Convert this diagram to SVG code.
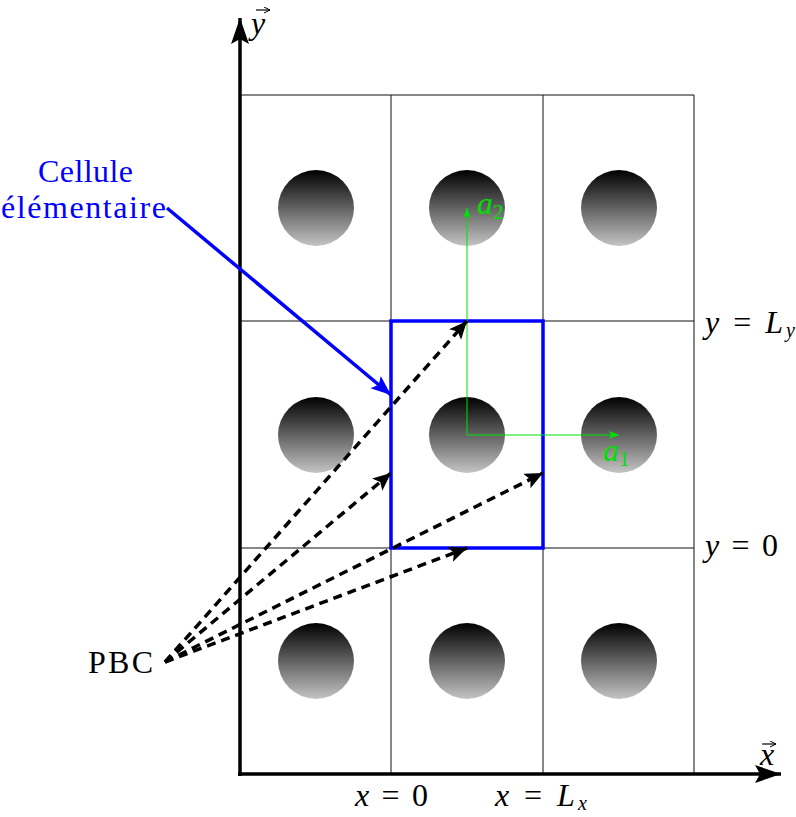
<svg xmlns="http://www.w3.org/2000/svg" width="796" height="817" viewBox="0 0 796 817">
<defs>
<linearGradient id="ball" x1="0" y1="0" x2="0" y2="1">
<stop offset="0" stop-color="#000"/>
<stop offset="1" stop-color="#c4c4c4"/>
</linearGradient>
<marker id="axh" markerUnits="userSpaceOnUse" markerWidth="30" markerHeight="20" refX="26" refY="9" orient="auto">
<path d="M0,0 L26,9 L0,18 L5,9 Z" fill="#000"/>
</marker>
<marker id="dh" markerUnits="userSpaceOnUse" markerWidth="22" markerHeight="18" refX="18" refY="8" orient="auto">
<path d="M0,0 L18,8 L0,16 L4,8 Z" fill="#000"/>
</marker>
<marker id="bh" markerUnits="userSpaceOnUse" markerWidth="24" markerHeight="18" refX="20" refY="8" orient="auto">
<path d="M0,0 L20,8 L0,16 L4,8 Z" fill="#0000ff"/>
</marker>
<marker id="gh" markerUnits="userSpaceOnUse" markerWidth="12" markerHeight="10" refX="10" refY="4" orient="auto">
<path d="M0,0 L10,4 L0,8 L2,4 Z" fill="#00e000"/>
</marker>
<marker id="vh" markerUnits="userSpaceOnUse" markerWidth="8" markerHeight="8" refX="6" refY="3" orient="auto">
<path d="M0,0 L6,3 L0,6" fill="none" stroke="#000" stroke-width="1"/>
</marker>
</defs>
<style>
.grid{stroke:#111;stroke-width:1;fill:none}
.ball{fill:url(#ball)}
.t{font-family:"Liberation Serif","Times New Roman",serif;font-size:32px}
.m{font-family:"Liberation Serif","Times New Roman",serif;font-size:32px;font-style:italic}
.n{font-style:normal}
.blue{fill:#0000ff}
.gr{fill:#00e000}
.pbc{stroke:#000;stroke-width:3.5;stroke-dasharray:9 6;fill:none;marker-end:url(#dh)}
.green{stroke:#00e000;stroke-width:1;fill:none;marker-end:url(#gh)}
.vec{stroke:#000;stroke-width:1.2;fill:none;marker-end:url(#vh)}
</style>
<g id="grid">
<line class="grid" x1="240" y1="95" x2="694" y2="95"/>
<line class="grid" x1="240" y1="321" x2="694" y2="321"/>
<line class="grid" x1="240" y1="548" x2="694" y2="548"/>
<line class="grid" x1="391" y1="95" x2="391" y2="774"/>
<line class="grid" x1="543" y1="95" x2="543" y2="774"/>
<line class="grid" x1="694" y1="95" x2="694" y2="774"/>
</g>
<g id="balls">
<circle class="ball" cx="316" cy="208" r="38"/>
<circle class="ball" cx="467" cy="208" r="38"/>
<circle class="ball" cx="619" cy="208" r="38"/>
<circle class="ball" cx="316" cy="435" r="38"/>
<circle class="ball" cx="467" cy="435" r="38"/>
<circle class="ball" cx="619" cy="435" r="38"/>
<circle class="ball" cx="316" cy="661" r="38"/>
<circle class="ball" cx="467" cy="661" r="38"/>
<circle class="ball" cx="619" cy="661" r="38"/>
</g>
<g id="axes">
<line x1="240" y1="776" x2="240" y2="18" stroke="#000" stroke-width="3.5" marker-end="url(#axh)"/>
<line x1="238" y1="774" x2="781" y2="774" stroke="#000" stroke-width="3.5" marker-end="url(#axh)"/>
<text class="m" x="251" y="34">y</text>
<line class="vec" x1="256" y1="10" x2="270" y2="10"/>
<text class="m" x="760" y="765">x</text>
<line class="vec" x1="762" y1="744" x2="776" y2="744"/>
</g>
<g id="cell">
<rect x="391" y="321" width="152" height="227" fill="none" stroke="#0000ff" stroke-width="3.5"/>
</g>
<g id="lattice-vectors">
<line class="green" x1="467" y1="435" x2="467" y2="208"/>
<line class="green" x1="467" y1="435" x2="619" y2="435"/>
<text class="m gr" x="477" y="214">a<tspan class="n" font-size="21" dy="5">2</tspan></text>
<text class="m gr" x="603" y="461">a<tspan class="n" font-size="21" dy="5">1</tspan></text>
</g>
<g id="connectors">
<line x1="167" y1="208" x2="391" y2="395" stroke="#0000ff" stroke-width="3.5" marker-end="url(#bh)"/>
<line class="pbc" x1="165" y1="662" x2="467" y2="321"/>
<line class="pbc" x1="165" y1="662" x2="391" y2="473"/>
<line class="pbc" x1="165" y1="662" x2="543" y2="473"/>
<line class="pbc" x1="165" y1="662" x2="467" y2="548"/>
</g>
<g id="label-cell">
<text class="t blue" x="38" y="182" textLength="95">Cellule</text>
<text class="t blue" x="1" y="218" textLength="165">élémentaire</text>
</g>
<g id="label-pbc">
<text class="t" x="88" y="673" textLength="65">PBC</text>
</g>
<g id="bounds">
<text class="m" x="355" y="806" textLength="73">x <tspan class="n">= 0</tspan></text>
<text class="m" x="495" y="806" textLength="92">x <tspan class="n">= </tspan>L<tspan font-size="20" dy="4">x</tspan></text>
<text class="m" x="705" y="333" textLength="90">y <tspan class="n">= </tspan>L<tspan font-size="20" dy="4">y</tspan></text>
<text class="m" x="705" y="556" textLength="73">y <tspan class="n">= 0</tspan></text>
</g>
</svg>
